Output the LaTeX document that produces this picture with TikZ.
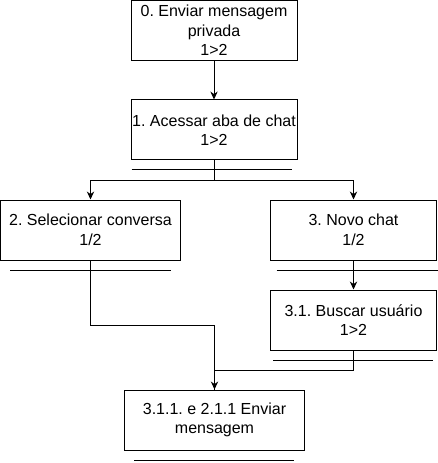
\documentclass[tikz,border=0pt]{standalone}
\usepackage{fontspec}
\setmainfont{Liberation Sans}
\usetikzlibrary{arrows.meta}
\frenchspacing
\tikzset{
  caixa/.style={draw, line width=0.75pt, align=center, inner sep=0pt, minimum height=45pt, minimum width=124.5pt, font=\fontsize{12}{14.6}\selectfont},
  larga/.style={caixa, minimum width=135pt},
  seta/.style={-{Stealth[length=6pt,width=5.5pt]}, line width=0.75pt},
  linha/.style={line width=0.75pt},
}
\newcommand{\traco}[3]{\draw[linha] (#1,#3) -- (#2,#3);}

\begin{document}
\begin{tikzpicture}[x=0.75pt,y=-0.75pt]
  \useasboundingbox (0,0) rectangle (438,463);
  \node[caixa] (b0) at (214,30.5) {0. Enviar mensagem\\privada\\1>2};
  \node[caixa] (b1) at (214,130) {1. Acessar aba de chat\\1>2};
  \node[larga] (b2) at (90.5,230) {2. Selecionar conversa\\1/2};
  \node[caixa] (b3) at (353.5,230) {3. Novo chat\\1/2};
  \node[caixa] (b31) at (353.5,320) {3.1. Buscar usuário\\1>2};
  \node[larga] (fim) at (214.5,420) {3.1.1. e 2.1.1 Enviar\\mensagem};
  % tracos sob as caixas
  \traco{131.5}{291.5}{170}
  \traco{10}{170.5}{270}
  \traco{276.5}{438}{270}
  \traco{273}{433}{360}
  \traco{134}{294}{460}
  % ligacoes
  \draw[seta] (b0) -- (b1);
  \draw[linha] (b1.south) -- ++(0,20) coordinate (j1);
  \draw[seta] (j1) -| (b2);
  \draw[seta] (j1) -| (b3);
  \draw[seta] (b3) -- (b31);
  \draw[seta] (b2.south) -- ++(0,65) -| (fim.north);
  \draw[linha] (b31.south) -- ++(0,20) -| (fim.north);
\end{tikzpicture}
\end{document}
